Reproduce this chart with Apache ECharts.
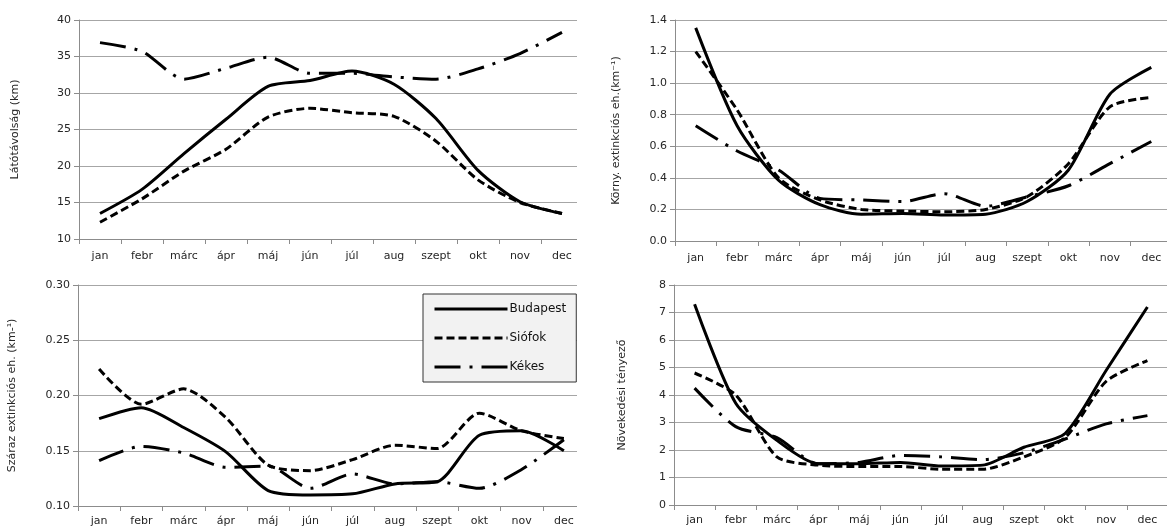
<!DOCTYPE html>
<html>
<head>
<meta charset="utf-8">
<script src="https://cdn.jsdelivr.net/npm/echarts@6/dist/echarts.min.js"></script>
<style>
html, body { margin: 0; padding: 0; background: #fff; }
#chart { width: 1167px; height: 531px; }
</style>
</head>
<body>
<div id="chart"></div>
<script>
// hónapok
var months = ['jan', 'febr', 'márc', 'ápr', 'máj', 'jún', 'júl', 'aug', 'szept', 'okt', 'nov', 'dec'];
var stations = ['Budapest', 'Siófok', 'Kékes'];

// Látótávolság (km)
var visBudapest = [13.5, 16.8, 21.7, 26.4, 30.9, 31.7, 33.0, 31.2, 26.5, 19.4, 15.1, 13.5];
var visSiofok   = [12.3, 15.5, 19.3, 22.3, 26.7, 27.9, 27.3, 26.8, 23.4, 18.1, 15.0, 13.5];
var visKekes    = [36.9, 35.7, 31.9, 33.4, 34.9, 32.7, 32.7, 32.2, 31.9, 33.3, 35.4, 38.3];

// Körny. extinkciós eh. (km-1)
var extBudapest = [1.35, 0.73, 0.385, 0.23, 0.17, 0.175, 0.165, 0.17, 0.25, 0.45, 0.93, 1.10];
var extSiofok   = [1.20, 0.83, 0.40, 0.26, 0.20, 0.19, 0.185, 0.20, 0.28, 0.49, 0.85, 0.91];
var extKekes    = [0.73, 0.57, 0.45, 0.27, 0.26, 0.25, 0.30, 0.22, 0.28, 0.35, 0.49, 0.63];

// Száraz extinkciós eh. (km-1)
var dryBudapest = [0.179, 0.189, 0.171, 0.149, 0.114, 0.110, 0.111, 0.120, 0.122, 0.164, 0.168, 0.150];
var drySiofok   = [0.224, 0.192, 0.206, 0.180, 0.137, 0.132, 0.142, 0.155, 0.152, 0.184, 0.168, 0.161];
var dryKekes    = [0.141, 0.154, 0.148, 0.135, 0.136, 0.116, 0.129, 0.120, 0.122, 0.116, 0.133, 0.160];

// Növekedési tényező
var grwBudapest = [7.3, 3.7, 2.35, 1.5, 1.5, 1.55, 1.42, 1.45, 2.1, 2.6, 4.9, 7.2];
var grwSiofok   = [4.8, 4.0, 1.75, 1.45, 1.4, 1.4, 1.3, 1.3, 1.75, 2.45, 4.5, 5.25];
var grwKekes    = [4.25, 2.85, 2.45, 1.5, 1.55, 1.8, 1.75, 1.65, 1.9, 2.4, 2.95, 3.25];

var panels = [
    { name: 'Látótávolság (km)', data: [visBudapest, visSiofok, visKekes], min: 10, max: 40, interval: 5, dec: 0, nameGap: 58 },
    { name: 'Körny. extinkciós eh.(km⁻¹)', data: [extBudapest, extSiofok, extKekes], min: 0, max: 1.4, interval: 0.2, dec: 1, nameGap: 53 },
    { name: 'Száraz extinkciós eh. (km-¹)', data: [dryBudapest, drySiofok, dryKekes], min: 0.1, max: 0.3, interval: 0.05, dec: 2, nameGap: 60 },
    { name: 'Növekedési tényező', data: [grwBudapest, grwSiofok, grwKekes], min: 0, max: 8, interval: 1, dec: 0, nameGap: 46 }
];

var grids = [
    { left: 79, top: 20, width: 504, height: 219 },
    { left: 675, top: 20, width: 497, height: 221 },
    { left: 78, top: 285, width: 507, height: 221 },
    { left: 674, top: 285, width: 494, height: 220 }
];

var lineStyles = [
    { type: 'solid' },
    { type: [8, 4] },
    { type: [26, 9, 3, 9] }
];

var font = 'DejaVu Sans';
var textColor = '#262626';
var axisGray = '#8c8c8c';

var xAxes = [], yAxes = [], series = [];
panels.forEach(function (p, i) {
    xAxes.push({
        gridIndex: i,
        type: 'category',
        data: months,
        boundaryGap: true,
        axisLine: { lineStyle: { color: axisGray } },
        axisTick: { show: true, length: 5, lineStyle: { color: axisGray } },
        axisLabel: { interval: 0, margin: i < 2 ? 12 : 10, color: textColor, fontFamily: font, fontSize: 11 }
    });
    yAxes.push({
        gridIndex: i,
        type: 'value',
        min: p.min, max: p.max, interval: p.interval,
        name: p.name,
        nameLocation: 'middle',
        nameGap: p.nameGap,
        nameTextStyle: { color: textColor, fontFamily: font, fontSize: 11 },
        axisLine: { show: true, lineStyle: { color: axisGray } },
        axisTick: { show: true, length: 5, lineStyle: { color: axisGray } },
        splitLine: { lineStyle: { color: '#a6a6a6' } },
        axisLabel: {
            color: textColor, fontFamily: font, fontSize: 11, margin: 8,
            formatter: (function (d) { return function (v) { return v.toFixed(d); }; })(p.dec)
        }
    });
    p.data.forEach(function (vals, k) {
        series.push({
            name: stations[k],
            type: 'line',
            xAxisIndex: i,
            yAxisIndex: i,
            data: vals,
            smooth: 0.25,
            symbol: 'none',
            itemStyle: { color: '#000' },
            lineStyle: { color: '#000', width: 3, type: lineStyles[k].type, cap: 'butt' }
        });
    });
});

var chart = echarts.init(document.getElementById('chart'));
chart.setOption({
    animation: false,
    backgroundColor: '#fff',
    grid: grids.map(function (g) {
        return Object.assign({ containLabel: false, outerBoundsMode: 'none' }, g);
    }),
    xAxis: xAxes,
    yAxis: yAxes,
    legend: {
        data: stations,
        orient: 'vertical',
        left: 423,
        top: 294,
        padding: [9, 10, 9, 10],
        itemGap: 17,
        itemWidth: 73,
        itemHeight: 14,
        itemStyle: { opacity: 0 },
        lineStyle: { width: 3 },
        backgroundColor: '#f2f2f2',
        borderColor: '#333',
        borderWidth: 1,
        textStyle: { color: '#111', fontFamily: font, fontSize: 12, padding: [0, 0, 0, -3] }
    },
    graphic: [
        // a kép jobb szélén levágott diagramterület
        { type: 'rect', left: 577, top: 0, z: 100, shape: { width: 28, height: 531 }, style: { fill: '#fff' } }
    ],
    series: series
});
</script>
</body>
</html>
